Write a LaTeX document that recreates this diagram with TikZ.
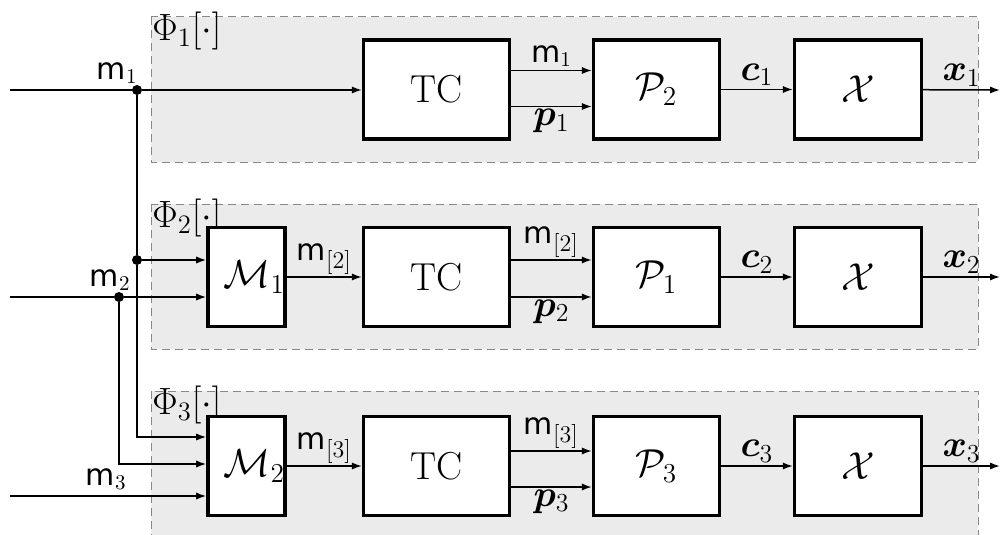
\documentclass[tikz,border=0pt]{standalone}
\usepackage{fix-cm}
\usepackage{amsmath,bm}
\usepackage{fontspec}
\newfontfamily\msf{DejaVu Sans}
\usetikzlibrary{arrows.meta,calc}
\definecolor{dgray}{RGB}{136,136,136}
\definecolor{gfill}{RGB}{235,235,235}
\newcommand{\mm}{\mathord{\text{\msf m}}}
\newcommand{\msub}[1]{\mm_{\text{\fontsize{12}{14}\selectfont[#1]}}}
\begin{document}
\begin{tikzpicture}[x=0.5pt,y=-0.5pt,
  blk/.style={draw,line width=1.7pt,fill=white,minimum height=49.5pt,inner sep=0pt,font=\fontsize{19.5}{22}\selectfont},
  grp/.style={draw=dgray,dash pattern=on 4pt off 2.5pt,fill=gfill,line width=0.5pt},
  ln/.style={line width=0.75pt},
  arr/.style={ln,-{Latex[length=5pt,width=3.6pt]}},
  dot/.style={circle,fill=black,inner sep=0pt,minimum size=5pt},
  lab/.style={font=\fontsize{15}{17}\selectfont,inner sep=1.5pt},
  blab/.style={font=\fontsize{18.5}{21}\selectfont,inner sep=1.5pt},
  phl/.style={font=\fontsize{19}{21}\selectfont,inner sep=0pt,anchor=north west}]
\clip (0,0) rectangle (1001,535);
% groups
\path[grp] (151,17) rectangle (978,162);
\path[grp] (151,204) rectangle (978,349);
\path[grp] (151,391) rectangle (978,545);
\node[phl] (phiA) at (152,12) {$\Phi_1[\cdot]$};
\node[phl] (phiB) at (152,199) {$\Phi_2[\cdot]$};
\node[phl] (phiC) at (152,386) {$\Phi_3[\cdot]$};
% row 1
\node[blk,minimum width=73pt] (tcA) at (436.5,89.5) {TC};
\node[blk,minimum width=63pt] (pA) at (656.5,89.5) {$\mathcal{P}_2$};
\node[blk,minimum width=63.5pt] (xA) at (858,89.5) {$\mathcal{X}$};
% row 2
\node[blk,minimum width=36pt] (mA) at (246.5,277) {\hspace*{8pt}$\mathcal{M}_1$};
\node[blk,minimum width=73pt] (tcB) at (436.5,277) {TC};
\node[blk,minimum width=63pt] (pB) at (656.5,277) {$\mathcal{P}_1$};
\node[blk,minimum width=63.5pt] (xB) at (858,277) {$\mathcal{X}$};
% row 3
\node[blk,minimum width=36pt] (mB) at (246.5,466) {\hspace*{8pt}$\mathcal{M}_2$};
\node[blk,minimum width=73pt] (tcC) at (436.5,466) {TC};
\node[blk,minimum width=63pt] (pC) at (656.5,466) {$\mathcal{P}_3$};
\node[blk,minimum width=63.5pt] (xC) at (858,466) {$\mathcal{X}$};
% inputs
\coordinate (inA) at (10,90);
\coordinate (inB) at (10,297);
\coordinate (inC) at (10,496);
\node[dot] (dA) at (137,90) {};
\node[dot] (dB) at (137,260) {};
\node[dot] (dC) at (119,297) {};
\coordinate (kA) at (137,437);
\coordinate (kB) at (119,464);
\draw[ln] (inA) -- (dA);
\draw[arr] (dA) -- (dA -| tcA.west);
\draw[ln] (dA) -- (dB);
\draw[arr] (dB) -- (dB -| mA.west);
\draw[arr] (dB) -- (kA) -- (kA -| mB.west);
\draw[ln] (inB) -- (dC);
\draw[arr] (dC) -- (dC -| mA.west);
\draw[arr] (dC) -- (kB) -- (kB -| mB.west);
\draw[arr] (inC) -- (inC -| mB.west);
\node[lab,anchor=south east,inner sep=0pt] (lA) at (138,84) {$\mm_1$};
\node[lab,anchor=south east,inner sep=0pt] (lB) at (131,291) {$\mm_2$};
\node[lab,anchor=south east,inner sep=0pt] (lC) at (127,490) {$\mm_3$};
% M -> TC
\draw[arr] (mA) -- node[lab,above,inner sep=1pt] (lmB) {$\msub{2}$} (tcB);
\draw[arr] (mB) -- node[lab,above,inner sep=1pt] (lmC) {$\msub{3}$} (tcC);
% TC -> P
\draw[arr] ([yshift=9.5pt]tcA.east) -- node[lab,above] (qA) {$\mm_1$} ([yshift=9.5pt]pA.west);
\draw[arr] ([yshift=-8.5pt]tcA.east) -- node[blab,below,inner sep=1pt] (rA) {$\bm{p}_1$} ([yshift=-8.5pt]pA.west);
\draw[arr] ([yshift=8.5pt]tcB.east) -- node[lab,above,inner sep=1pt] (qB) {$\msub{2}$} ([yshift=8.5pt]pB.west);
\draw[arr] ([yshift=-10pt]tcB.east) -- node[blab,below,inner sep=1pt] (rB) {$\bm{p}_2$} ([yshift=-10pt]pB.west);
\draw[arr] ([yshift=7.5pt]tcC.east) -- node[lab,above,inner sep=1pt] (qC) {$\msub{3}$} ([yshift=7.5pt]pC.west);
\draw[arr] ([yshift=-10.5pt]tcC.east) -- node[blab,below,inner sep=1pt] (rC) {$\bm{p}_3$} ([yshift=-10.5pt]pC.west);
% P -> X
\draw[arr] (pA) -- node[blab,above] (cA) {$\bm{c}_1$} (xA);
\draw[arr] (pB) -- node[blab,above] (cB) {$\bm{c}_2$} (xB);
\draw[arr] (pC) -- node[blab,above] (cC) {$\bm{c}_3$} (xC);
% outputs
\coordinate (oA) at (1000,90);
\coordinate (oB) at (1000,277);
\coordinate (oC) at (1000,466);
\draw[arr] (xA) -- node[blab,above] (yA) {$\bm{x}_1$} (oA);
\draw[arr] (xB) -- node[blab,above] (yB) {$\bm{x}_2$} (oB);
\draw[arr] (xC) -- node[blab,above] (yC) {$\bm{x}_3$} (oC);
\end{tikzpicture}
\end{document}
